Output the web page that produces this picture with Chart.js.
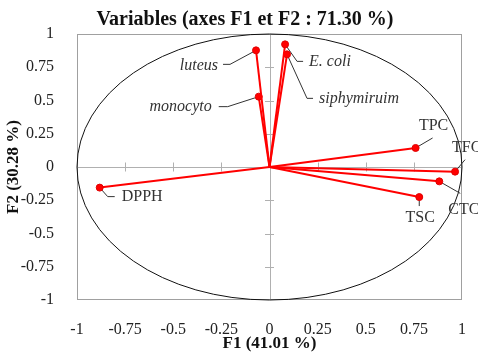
<!DOCTYPE html>
<html>
<head>
<meta charset="utf-8">
<script src="https://cdn.jsdelivr.net/npm/chart.js@4/dist/chart.umd.min.js"></script>
<style>
  html, body { margin: 0; padding: 0; background: #fff; }
  #wrap { width: 478px; height: 355px; }
</style>
</head>
<body>
<div id="wrap"><canvas id="chart" width="478" height="355"></canvas></div>
<script>
const variables = ["E. coli", "siphymiruim", "luteus", "monocyto", "TPC", "TFC", "CTC", "TSC", "DPPH"]
const f1 = [0.081, 0.091, -0.070, -0.056, 0.759, 0.964, 0.882, 0.778, -0.882]
const f2 = [0.922, 0.847, 0.877, 0.529, 0.143, -0.035, -0.108, -0.226, -0.155]
const italicVars = ["E. coli", "siphymiruim", "luteus", "monocyto"]

const tickValues = [-1, -0.75, -0.5, -0.25, 0, 0.25, 0.5, 0.75, 1]
const tickLabels = ["-1", "-0.75", "-0.5", "-0.25", "0", "0.25", "0.5", "0.75", "1"]

// where each name sits relative to its point (pixels), with its leader line
const labelLayout = {
  "E. coli":     { dx: 24,  dy: 17,  align: "left",   leader: [[0, 0], [12, 17], [18, 17]] },
  "siphymiruim": { dx: 32,  dy: 44,  align: "left",   leader: [[0, 0], [20, 44], [26, 44]] },
  "luteus":      { dx: -38, dy: 15,  align: "right",  leader: [[0, 0], [-26, 14], [-33, 14]] },
  "monocyto":    { dx: -47, dy: 10,  align: "right",  leader: [[0, 0], [-31, 10], [-40, 10]] },
  "TPC":         { dx: 18,  dy: -22, align: "center", leader: [[0, 0], [17, -10]] },
  "TFC":         { dx: -3,  dy: -24, align: "left",   leader: [[0, 0], [10, -12]] },
  "CTC":         { dx: 9,   dy: 28,  align: "left",   leader: [[0, 0], [21, 12]] },
  "TSC":         { dx: 1,   dy: 21,  align: "center", leader: [[0, 0], [0, 9]] },
  "DPPH":        { dx: 22,  dy: 9,   align: "left",   leader: [[0, 0], [8, 9], [15, 9]] }
}

const serif = "'Liberation Serif', 'Times New Roman', serif"

const datasets = variables.map((name, i) => ({
  label: name,
  data: [{ x: 0, y: 0 }, { x: f1[i], y: f2[i] }],
  showLine: true,
  borderColor: "#ff0000",
  borderWidth: 2,
  pointRadius: [0, 3.5],
  pointBackgroundColor: "#ff0000",
  pointBorderColor: "#e00000",
  pointBorderWidth: 1
}))

const circlePlugin = {
  id: "circle",
  afterLayout(chart) {
    // the title sits a little right of the canvas centre in the original
    if (chart.titleBlock) chart.titleBlock.left = 28
  },
  beforeDatasetsDraw(chart) {
    const { ctx, chartArea, scales: { x, y } } = chart
    const x0 = x.getPixelForValue(0)
    const y0 = y.getPixelForValue(0)
    ctx.save()

    // frame
    ctx.strokeStyle = "#a0a0a0"
    ctx.lineWidth = 1
    ctx.strokeRect(chartArea.left + 0.5, chartArea.top + 0.5, chartArea.width - 1, chartArea.height - 1)

    // zero axes with tick marks
    ctx.strokeStyle = "#b0b0b0"
    ctx.beginPath()
    ctx.moveTo(chartArea.left, Math.round(y0) + 0.5)
    ctx.lineTo(chartArea.right, Math.round(y0) + 0.5)
    ctx.moveTo(Math.round(x0) + 0.5, chartArea.top)
    ctx.lineTo(Math.round(x0) + 0.5, chartArea.bottom)
    tickValues.forEach(v => {
      if (v === 0 || Math.abs(v) === 1) return
      const px = Math.round(x.getPixelForValue(v)) + 0.5
      const py = Math.round(y.getPixelForValue(v)) + 0.5
      ctx.moveTo(px, y0 - 4.5)
      ctx.lineTo(px, y0 + 4.5)
      ctx.moveTo(x0 - 4.5, py)
      ctx.lineTo(x0 + 4.5, py)
    })
    ctx.stroke()

    // correlation circle
    ctx.strokeStyle = "#111"
    ctx.lineWidth = 1
    ctx.beginPath()
    ctx.ellipse(x0, y0, x.getPixelForValue(1) - x0, y0 - y.getPixelForValue(1), 0, 0, Math.PI * 2)
    ctx.stroke()

    // leader lines
    ctx.strokeStyle = "#333"
    ctx.lineWidth = 1
    variables.forEach((name, i) => {
      const px = x.getPixelForValue(f1[i])
      const py = y.getPixelForValue(f2[i])
      const pts = labelLayout[name].leader
      ctx.beginPath()
      pts.forEach(([dx, dy], k) => {
        if (k === 0) ctx.moveTo(px + dx, py + dy)
        else ctx.lineTo(px + dx, py + dy)
      })
      ctx.stroke()
    })
    ctx.restore()
  },
  afterDatasetsDraw(chart) {
    const { ctx, scales: { x, y } } = chart
    ctx.save()
    ctx.fillStyle = "#333"
    ctx.textBaseline = "middle"
    variables.forEach((name, i) => {
      const lay = labelLayout[name]
      const px = x.getPixelForValue(f1[i])
      const py = y.getPixelForValue(f2[i])
      ctx.font = (italicVars.includes(name) ? "italic " : "") + "16px " + serif
      ctx.textAlign = lay.align
      ctx.fillText(name, px + lay.dx, py + lay.dy)
    })
    ctx.restore()
  }
}

const tickSetup = (scale) => {
  scale.ticks = tickValues.map(v => ({ value: v }))
}

new Chart(document.getElementById("chart"), {
  type: "scatter",
  data: { datasets },
  options: {
    responsive: false,
    animation: false,
    devicePixelRatio: 1,
    layout: {
      padding: { left: 0, right: 16, top: 0, bottom: 0 }
    },
    plugins: {
      legend: { display: false },
      tooltip: { enabled: false },
      title: {
        display: true,
        text: "Variables (axes F1 et F2 : 71.30 %)",
        color: "#111",
        font: { family: serif, size: 20, weight: "bold" },
        padding: { top: 8, bottom: 2 }
      }
    },
    scales: {
      x: {
        type: "linear",
        min: -1,
        max: 1,
        afterBuildTicks: tickSetup,
        afterFit: (scale) => { scale.height = 55 },
        grid: { display: false },
        border: { display: false },
        ticks: {
          autoSkip: false,
          maxRotation: 0,
          padding: 12,
          color: "#222",
          font: { family: serif, size: 16 },
          callback: (value) => tickLabels[tickValues.indexOf(value)]
        },
        title: {
          display: true,
          text: "F1 (41.01 %)",
          color: "#111",
          font: { family: serif, size: 17, weight: "bold" },
          padding: { top: 0, bottom: 1 }
        }
      },
      y: {
        type: "linear",
        min: -1,
        max: 1,
        afterBuildTicks: tickSetup,
        afterFit: (scale) => { scale.width = 77 },
        grid: { display: false },
        border: { display: false },
        ticks: {
          autoSkip: false,
          padding: 15,
          color: "#222",
          font: { family: serif, size: 16 },
          callback: (value) => tickLabels[tickValues.indexOf(value)]
        },
        title: {
          display: true,
          text: "F2 (30.28 %)",
          color: "#111",
          font: { family: serif, size: 17, weight: "bold" },
          padding: { top: 3, bottom: 0 }
        }
      }
    }
  },
  plugins: [circlePlugin]
})
</script>
</body>
</html>
